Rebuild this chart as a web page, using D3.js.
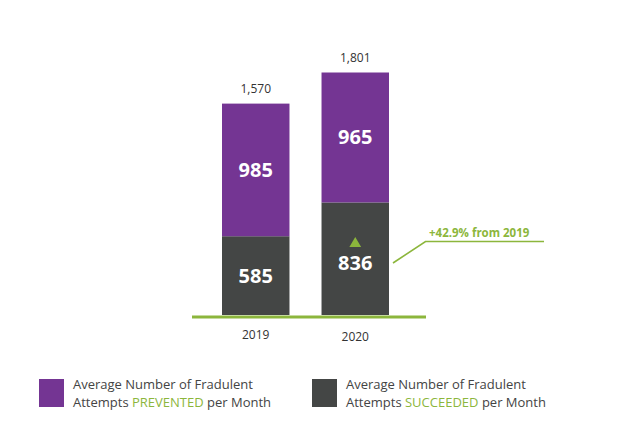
<!DOCTYPE html>
<html><head><meta charset="utf-8">
<script src="https://cdn.jsdelivr.net/npm/d3@7"></script>
<style>body{margin:0;background:#fff}svg{display:block;font-family:"Open Sans",sans-serif}</style>
</head><body>
<svg id="c" width="641" height="441"></svg>
<script>
const years = ["2019", "2020"];
const succeeded = [585, 836];
const prevented = [985, 965];
const totals = [1570, 1801];
const changeLabel = "+42.9% from 2019";
const legendLabels = [
  ["Average Number of Fradulent", "Attempts ", "PREVENTED", " per Month"],
  ["Average Number of Fradulent", "Attempts ", "SUCCEEDED", " per Month"]
];

const purple = "#743593", dark = "#444645", green = "#8cb63c";
const svg = d3.select("#c");

const x = d3.scaleBand().domain(years).range([222, 389]).paddingInner(0.322).paddingOuter(0);
const y = d3.scaleLinear().domain([0, d3.max(totals)]).range([315, 72.5]);

const rows = years.map((yr, i) => ({year: yr, succeeded: succeeded[i], prevented: prevented[i]}));
const stack = d3.stack().keys(["succeeded", "prevented"])(rows);
const colors = {succeeded: dark, prevented: purple};

stack.forEach(layer => {
  svg.append("g").selectAll("rect").data(layer).join("rect")
    .attr("x", d => x(d.data.year))
    .attr("width", x.bandwidth())
    .attr("y", d => y(d[1]))
    .attr("height", d => y(d[0]) - y(d[1]))
    .attr("fill", colors[layer.key]);
  svg.append("g").selectAll("text").data(layer).join("text")
    .attr("x", d => x(d.data.year) + x.bandwidth() / 2)
    .attr("y", d => (y(d[0]) + y(d[1])) / 2 + 7 + (layer.key === "succeeded" && d.data.year === "2020" ? 4 : 0))
    .attr("text-anchor", "middle")
    .attr("fill", "#fff").attr("font-weight", 700).attr("font-size", 20)
    .text(d => d[1] - d[0]);
});

// totals
svg.append("g").selectAll("text").data(rows).join("text")
  .attr("x", d => x(d.year) + x.bandwidth() / 2)
  .attr("y", (d, i) => y(totals[i]) - 11)
  .attr("text-anchor", "middle").attr("fill", "#333").attr("font-size", 12)
  .text((d, i) => d3.format(",")(totals[i]));

// baseline
svg.append("line").attr("x1", 192).attr("x2", 426).attr("y1", 317).attr("y2", 317)
  .attr("stroke", green).attr("stroke-width", 3);

// year labels
svg.append("g").selectAll("text").data(years).join("text")
  .attr("x", d => x(d) + x.bandwidth() / 2)
  .attr("y", (d, i) => 339 + i * 2)
  .attr("text-anchor", "middle").attr("fill", "#333").attr("font-size", 12)
  .text(d => d);

// up triangle in 2020 succeeded
const cx20 = x("2020") + x.bandwidth() / 2;
const ty = (y(0) + y(succeeded[1])) / 2 - 15;
svg.append("path").attr("d", d3.symbol(d3.symbolTriangle, 60)())
  .attr("transform", `translate(${cx20},${ty})`).attr("fill", green);

// annotation
svg.append("polyline").attr("points", "393,263 425.5,241.5 544,241.5")
  .attr("fill", "none").attr("stroke", green).attr("stroke-width", 1.6);
svg.append("text").attr("x", 429).attr("y", 237).attr("fill", green)
  .attr("font-weight", 700).attr("font-size", 11.5).text(changeLabel);

// legend
const legX = [39, 312], legTX = [73, 346];
[purple, dark].forEach((c, i) => {
  svg.append("rect").attr("x", legX[i]).attr("y", 379).attr("width", 25).attr("height", 28).attr("fill", c);
  const t = svg.append("text").attr("x", legTX[i]).attr("y", 389).attr("font-size", 13).attr("fill", "#444");
  t.append("tspan").attr("x", legTX[i]).text(legendLabels[i][0]);
  const t2 = svg.append("text").attr("x", legTX[i]).attr("y", 407).attr("font-size", 13).attr("fill", "#444");
  t2.append("tspan").text(legendLabels[i][1]);
  t2.append("tspan").attr("fill", green).text(legendLabels[i][2]);
  t2.append("tspan").text(legendLabels[i][3]);
});
</script>
</body></html>
